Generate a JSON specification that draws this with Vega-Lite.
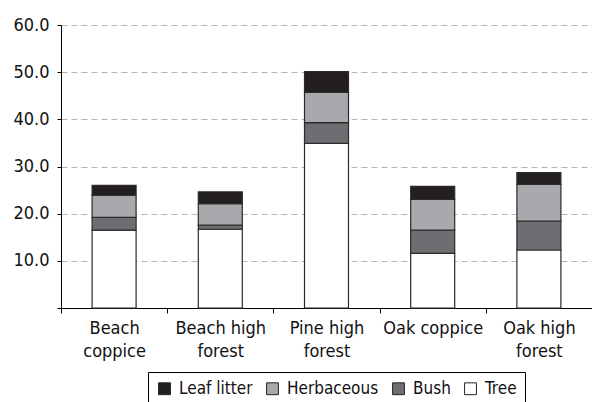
{
  "$schema": "https://vega.github.io/schema/vega-lite/v6.json",
  "width": 531,
  "height": 283,
  "autosize": "none",
  "padding": {"left": 61, "top": 25, "right": 0, "bottom": 94},
  "config": {
    "view": {"stroke": null},
    "font": "Liberation Sans Narrow, DejaVu Sans Condensed, sans-serif"
  },
  "data": {
    "values": [
      {"site": "Beach coppice", "layer": "Tree", "o": 1, "value": 16.5},
      {"site": "Beach coppice", "layer": "Bush", "o": 2, "value": 2.7},
      {"site": "Beach coppice", "layer": "Herbaceous", "o": 3, "value": 4.7},
      {"site": "Beach coppice", "layer": "Leaf litter", "o": 4, "value": 2.1},
      {"site": "Beach high forest", "layer": "Tree", "o": 1, "value": 16.7},
      {"site": "Beach high forest", "layer": "Bush", "o": 2, "value": 0.9},
      {"site": "Beach high forest", "layer": "Herbaceous", "o": 3, "value": 4.5},
      {"site": "Beach high forest", "layer": "Leaf litter", "o": 4, "value": 2.5},
      {"site": "Pine high forest", "layer": "Tree", "o": 1, "value": 34.9},
      {"site": "Pine high forest", "layer": "Bush", "o": 2, "value": 4.4},
      {"site": "Pine high forest", "layer": "Herbaceous", "o": 3, "value": 6.4},
      {"site": "Pine high forest", "layer": "Leaf litter", "o": 4, "value": 4.4},
      {"site": "Oak coppice", "layer": "Tree", "o": 1, "value": 11.6},
      {"site": "Oak coppice", "layer": "Bush", "o": 2, "value": 4.9},
      {"site": "Oak coppice", "layer": "Herbaceous", "o": 3, "value": 6.5},
      {"site": "Oak coppice", "layer": "Leaf litter", "o": 4, "value": 2.8},
      {"site": "Oak high forest", "layer": "Tree", "o": 1, "value": 12.3},
      {"site": "Oak high forest", "layer": "Bush", "o": 2, "value": 6.1},
      {"site": "Oak high forest", "layer": "Herbaceous", "o": 3, "value": 7.8},
      {"site": "Oak high forest", "layer": "Leaf litter", "o": 4, "value": 2.5}
    ]
  },
  "mark": {"type": "bar", "size": 44, "stroke": "#2b2b2b", "strokeWidth": 1.2},
  "encoding": {
    "x": {
      "field": "site",
      "type": "nominal",
      "sort": ["Beach coppice", "Beach high forest", "Pine high forest", "Oak coppice", "Oak high forest"],
      "scale": {"paddingInner": 0, "paddingOuter": 0},
      "axis": {
        "title": null,
        "labelAngle": 0,
        "tickBand": "extent",
        "domainColor": "#000",
        "tickColor": "#000",
        "tickSize": 5,
        "labelFontSize": 18,
        "labelColor": "#111",
        "labelPadding": 6,
        "labelLineHeight": 23,
        "labelBaseline": "top",
        "labelExpr": "datum.value=='Beach coppice'?['Beach','coppice']:datum.value=='Beach high forest'?['Beach high','forest']:datum.value=='Pine high forest'?['Pine high','forest']:datum.value=='Oak high forest'?['Oak high','forest']:datum.value"
      }
    },
    "y": {
      "field": "value",
      "type": "quantitative",
      "stack": "zero",
      "scale": {"domain": [0, 60], "nice": false},
      "axis": {
        "title": null,
        "values": [0, 10, 20, 30, 40, 50, 60],
        "labelExpr": "datum.value==0?'':format(datum.value,'.1f')",
        "gridDash": [6, 4],
        "gridColor": "#b5b5b5",
        "domainColor": "#000",
        "tickColor": "#000",
        "tickSize": 4,
        "labelFontSize": 18,
        "labelColor": "#111",
        "labelPadding": 8
      }
    },
    "color": {
      "field": "layer",
      "type": "nominal",
      "scale": {
        "domain": ["Leaf litter", "Herbaceous", "Bush", "Tree"],
        "range": ["#231f20", "#a7a9ac", "#6d6e71", "#ffffff"]
      },
      "legend": {
        "title": null,
        "orient": "none",
        "legendX": 87,
        "legendY": 347,
        "direction": "horizontal",
        "strokeColor": "#000",
        "padding": 8,
        "symbolType": "square",
        "symbolSize": 140,
        "symbolStrokeColor": "#222",
        "symbolStrokeWidth": 1,
        "symbolOpacity": 1,
        "labelFontSize": 17,
        "labelOffset": 6,
        "labelColor": "#111",
        "labelLimit": 200,
        "columnPadding": 11
      }
    },
    "order": {"field": "o", "type": "quantitative"}
  }
}
